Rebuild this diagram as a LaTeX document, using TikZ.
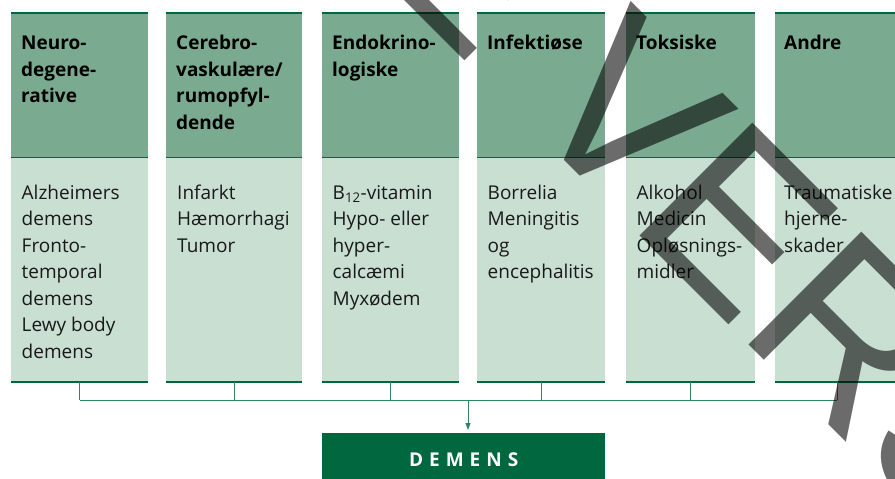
\documentclass[tikz,border=0pt]{standalone}
\usepackage{fontspec}
\setmainfont{Open Sans}
\newfontfamily\wmfont{Liberation Sans}
\usetikzlibrary{arrows.meta,calc}
\definecolor{hdrgreen}{HTML}{7AAB91}
\definecolor{bodygreen}{HTML}{C9DFD2}
\definecolor{darkgreen}{HTML}{00673E}
\definecolor{conngreen}{HTML}{2F8560}
\tikzset{
  hdrbox/.style={fill=hdrgreen, draw=none, anchor=north west, inner sep=0pt, minimum height=144pt},
  bodybox/.style={fill=bodygreen, draw=none, anchor=north west, inner sep=0pt, minimum height=225pt},
  rulethick/.style={draw=darkgreen, line width=2pt},
  rulethin/.style={draw=darkgreen, line width=1.6pt},
  hdrtext/.style={anchor=north west, inner sep=0pt, align=left, text=black,
    font=\fontsize{19}{26.5}\selectfont\bfseries},
  bodytext/.style={anchor=north west, inner sep=0pt, align=left, text=black!90,
    font=\fontsize{19}{26.5}\selectfont},
  conn/.style={draw=conngreen, line width=1pt},
  dembox/.style={fill=darkgreen, anchor=north west, inner sep=0pt, minimum width=283pt,
    minimum height=53pt, text=white, font=\fontsize{19}{21}\selectfont\bfseries},
  wm/.style={anchor=base west, inner sep=0pt, rotate=-45, text=black, text opacity=0.58,
    font=\wmfont\fontsize{232}{232}\selectfont}
}
\newcommand{\hstrut}{\rule{0pt}{15pt}}
\newcommand{\dk}{\kern6pt}
\begin{document}
\begin{tikzpicture}[x=1pt,y=-1pt]
\useasboundingbox (0,0) rectangle (895,479);
\clip (0,0) rectangle (895,479);
\foreach \i/\l/\w in {1/11/137, 2/166/136, 3/322/137, 4/477/128, 5/626/129, 6/775/124} {
  \node[hdrbox, minimum width=\w pt] (h\i) at (\l,13) {};
  \node[bodybox, minimum width=\w pt] (b\i) at (\l,157) {};
  \draw[rulethick] (h\i.north west) -- (h\i.north east);
  \draw[rulethin] (h\i.south west) -- (h\i.south east);
  \draw[rulethick] (b\i.south west) -- (b\i.south east);
  \coordinate (j\i) at ($(b\i.south)+(0,18)$);
  \draw[conn] (b\i.south) -- (j\i);
}
% header texts
\node[hdrtext] (ht1) at (21,34.5) {\hstrut Neuro-\\degene-\\rative};
\node[hdrtext] (ht2) at (176,34.5) {\hstrut Cerebro-\\vaskulære/\\rumopfyl-\\dende};
\node[hdrtext] (ht3) at (332,34.5) {\hstrut Endokrino-\\logiske};
\node[hdrtext] (ht4) at (487,34.5) {\hstrut Infektiøse};
\node[hdrtext] (ht5) at (636,34.5) {\hstrut Toksiske};
\node[hdrtext] (ht6) at (784,34.5) {\hstrut Andre};
% body texts
\node[bodytext] (bt1) at (21.5,184) {\hstrut Alzheimers\\demens\\Fronto-\\temporal\\demens\\Lewy body\\demens};
\node[bodytext] (bt2) at (177,184) {\hstrut Infarkt\\Hæmorrhagi\\Tumor};
\node[bodytext] (bt3) at (332.5,184) {\hstrut B\textsubscript{12}-vitamin\\Hypo- eller\\hyper-\\calcæmi\\Myxødem};
\node[bodytext] (bt4) at (487.5,184) {\hstrut Borrelia\\Meningitis\\og\\encephalitis};
\node[bodytext] (bt5) at (636.5,184) {\hstrut Alkohol\\Medicin\\Opløsnings-\\midler};
\node[bodytext] (bt6) at (784,184) {\hstrut Traumatiske\\hjerne-\\skader};
% bus and result
\draw[conn] (j1) -- (j6);
\node[dembox] (dem) at (322,433) {D\dk E\dk M\dk E\dk N\dk S};
\coordinate (ja) at (468,400);
\draw[conn, -{Triangle[width=5pt,length=7pt]}, shorten >=3pt] (ja) -- (ja |- dem.north);
% watermark
\node[wm] (wmk) at (362,-42) {E VERS};
\end{tikzpicture}
\end{document}
